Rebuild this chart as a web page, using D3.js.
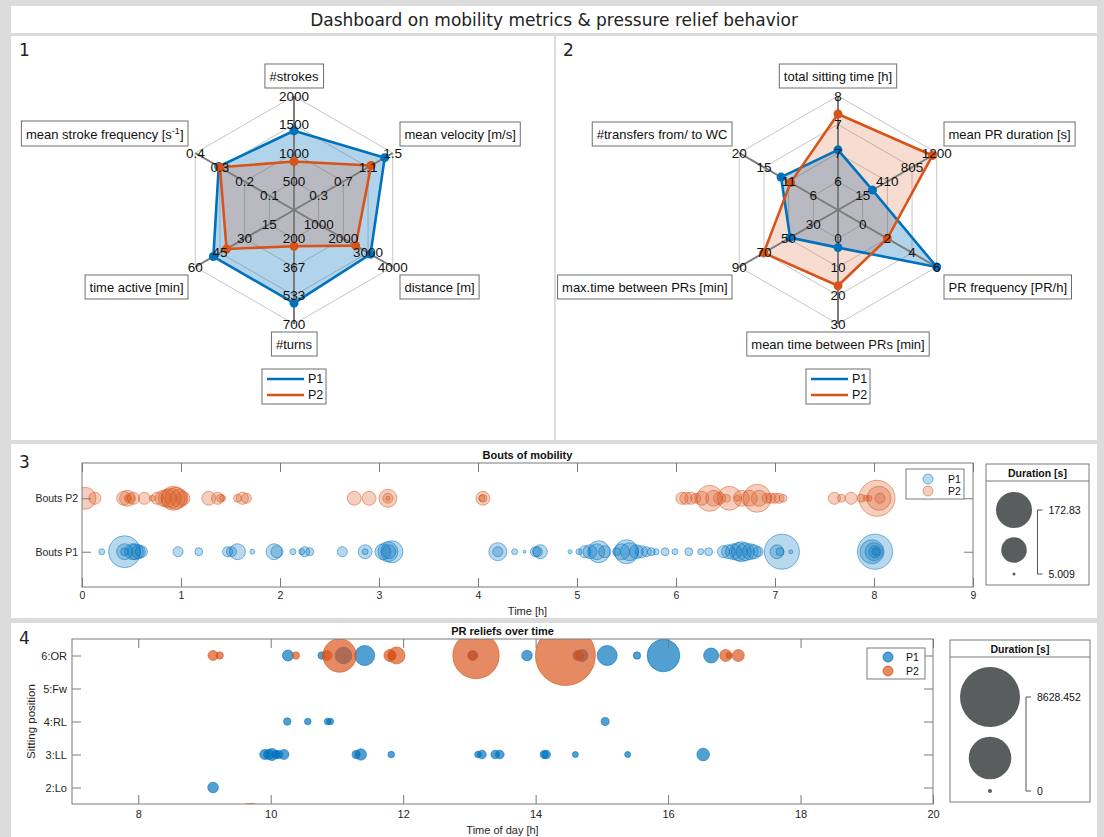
<!DOCTYPE html>
<html>
<head>
<meta charset="utf-8">
<script src="https://cdn.jsdelivr.net/npm/d3@7"></script>
<style>
  body { margin: 0; background: #dcdcdc; }
  svg { display: block; }
</style>
</head>
<body>
<div id="dash"></div>
<script>
// ---------------- DATA ----------------
const participants = ["P1", "P2"];
const colors = ["#0072BD", "#D95319"];

// radar 1 : mobility metrics
const mobLabels = ["#strokes", "mean velocity [m/s]", "distance [m]", "#turns", "time active [min]", "mean stroke frequency [s^-1]"];
const mobMin = [500, 0.3, 1000, 200, 15, 0.1];
const mobMax = [2000, 1.5, 4000, 700, 60, 0.4];
const mobTicks = [["500", "1000", "1500", "2000"], ["0.3", "0.7", "1.1", "1.5"], ["1000", "2000", "3000", "4000"],
                  ["200", "367", "533", "700"], ["15", "30", "45", "60"], ["0.1", "0.2", "0.3", "0.4"]];
const mobP1 = [1390, 1.37, 3100, 578, 49, 0.305];
const mobP2 = [850, 1.15, 2500, 245, 41, 0.3];

// radar 2 : pressure relief behaviour
const prLabels = ["total sitting time [h]", "mean PR duration [s]", "PR frequency [PR/h]", "mean time between PRs [min]", "max.time between PRs [min]", "#transfers from/ to WC"];
const prMin = [6, 15, 0, 0, 30, 6];
const prMax = [8, 1200, 6, 30, 90, 20];
const prTicks = [["6", "7", "7", "8"], ["15", "410", "805", "1200"], ["0", "2", "4", "6"],
                 ["0", "10", "20", "30"], ["30", "50", "70", "90"], ["6", "11", "15", "20"]];
const prP1 = [6.74, 172, 6.0, 3.2, 48.8, 12.1];
const prP2 = [7.58, 1130, 2.0, 16.6, 70.2, 10.3];

// bouts of mobility : time [h] and duration [s]
const boutRows = ["Bouts P1", "Bouts P2"];
const boutDurLimits = [5.009, 172.83];
const boutsP1Time = [0.20, 0.43, 0.43, 0.43, 0.51, 0.54, 0.57, 0.60, 0.97, 1.18, 1.47, 1.51, 1.57, 1.72, 1.94, 1.97,
  2.13, 2.22, 2.25, 2.30, 2.63, 2.86, 2.86, 3.04, 3.09, 3.13, 3.10, 4.20, 4.20, 4.37, 4.47, 4.58, 4.60, 4.63, 4.93,
  5.02, 5.08, 5.13, 5.20, 5.22, 5.28, 5.40, 5.45, 5.50, 5.53, 5.60, 5.65, 5.70, 5.75, 5.80, 5.89, 5.99, 6.13, 6.25, 6.33,
  6.48, 6.53, 6.58, 6.63, 6.66, 6.70, 6.75, 6.79, 6.83, 7.07, 7.02, 7.05, 7.16, 8.01, 7.98, 8.00, 8.01, 8.02];
const boutsP1Dur = [8.5, 137, 37, 12, 37, 37, 29, 23, 17, 12, 17, 17, 37, 7, 37, 23,
  8.5, 8.5, 17, 12, 17, 29, 8.5, 37, 56, 67, 29, 46, 17, 8.5, 5.009, 17, 17, 29, 6,
  8.5, 23, 29, 37, 67, 23, 12, 37, 79, 46, 29, 23, 17, 12, 8.5, 12, 8.5, 12, 8.5, 12,
  23, 29, 37, 46, 56, 46, 37, 29, 17, 164, 29, 12, 6, 165, 79, 46, 23, 12];
const boutsP2Time = [0.03, 0.13, 0.42, 0.46, 0.48, 0.47, 0.52, 0.63, 0.71, 0.76, 0.82, 0.86, 0.90, 0.92, 0.95, 0.98, 1.02,
  1.28, 1.37, 1.40, 1.42, 1.57, 1.62, 1.66, 2.75, 2.90, 3.09, 3.09, 3.09, 4.05, 4.05, 4.04,
  6.06, 6.10, 6.15, 6.20, 6.26, 6.34, 6.38, 6.44, 6.51, 6.54, 6.62, 6.66, 6.74, 6.82, 6.84, 6.92, 6.96, 7.00, 7.04, 7.08,
  7.60, 7.67, 7.77, 7.87, 7.92, 7.95, 8.03, 8.05, 8.06];
const boutsP2Dur = [67, 23, 29, 37, 17, 8.5, 23, 23, 8.5, 23, 37, 46, 56, 79, 67, 46, 29,
  29, 23, 12, 8.5, 12, 23, 17, 29, 29, 46, 17, 6, 29, 12, 8.5,
  23, 23, 23, 17, 29, 92, 37, 23, 12, 79, 8.5, 37, 37, 106, 37, 17, 17, 17, 17, 12,
  23, 12, 23, 12, 8.5, 8.5, 172.83, 79, 17];

// PR reliefs : time of day [h], sitting position, duration [s]
const posTicks = [2, 3, 4, 5, 6];
const posLabels = ["2:Lo", "3:LL", "4:RL", "5:Fw", "6:OR"];
const reliefDurLimits = [0, 8628.452];
const reliefP1Time = [10.26, 10.77, 11.10, 11.42, 13.05, 13.87, 14.64, 14.70, 15.08, 15.53, 15.93, 16.65,
  10.25, 10.56, 10.86, 10.90, 15.05,
  9.91, 9.97, 10.02, 10.08, 10.12, 10.20, 11.29, 11.36, 11.82, 13.13, 13.19, 13.39, 13.46, 14.13, 14.16, 14.60, 15.39, 16.53,
  9.13];
const reliefP1Pos = [6, 6, 6, 6, 6, 6, 6, 6, 6, 6, 6, 6,
  4, 4, 4, 4, 4,
  3, 3, 3, 3, 3, 3, 3, 3, 3, 3, 3, 3, 3, 3, 3, 3, 3, 3,
  2];
const reliefP1Dur = [253, 93, 625, 925, 202, 232, 202, 308, 925, 93, 2520, 503,
  93, 66, 66, 66, 116,
  202, 202, 308, 116, 116, 202, 116, 274, 66, 66, 140, 140, 140, 116, 140, 48, 48, 344,
  232];
const reliefP2Time = [9.13, 9.23, 10.38, 10.85, 11.04, 11.80, 11.90, 11.83, 13.10, 13.05, 14.45, 14.66, 16.87, 16.92, 17.06, 9.70];
const reliefP2Pos = [6, 6, 6, 6, 6, 6, 6, 6, 6, 6, 6, 6, 6, 6, 6, 1];
const reliefP2Dur = [202, 93, 93, 202, 2647, 308, 657, 116, 5145, 116, 8628.452, 116, 308, 48, 308, 2780];

// ---------------- FRAME ----------------
const FONT = "'Liberation Sans', Arial, Helvetica, sans-serif";
const svg = d3.select("#dash").append("svg")
  .attr("width", 1104).attr("height", 837)
  .style("font-family", FONT);

svg.append("rect").attr("width", 1104).attr("height", 837).attr("fill", "#dcdcdc");
const panels = [[11, 6, 1086, 27], [11, 36, 543, 404], [556, 36, 541, 404], [11, 444, 1086, 174], [11, 623, 1086, 214]];
panels.forEach(p => svg.append("rect")
  .attr("x", p[0]).attr("y", p[1]).attr("width", p[2]).attr("height", p[3]).attr("fill", "#fff"));

svg.append("text").attr("x", 554).attr("y", 26).attr("text-anchor", "middle")
  .style("font-family", "'DejaVu Sans', sans-serif").style("font-size", "17px").attr("fill", "#222")
  .text("Dashboard on mobility metrics & pressure relief behavior");

[["1", 19, 56], ["2", 563, 56], ["3", 19, 468], ["4", 19, 644]].forEach(n => svg.append("text")
  .attr("x", n[1]).attr("y", n[2]).style("font-family", "'DejaVu Sans', sans-serif")
  .style("font-size", "17px").attr("fill", "#222").text(n[0]));

// ---------------- RADARS ----------------
function radar(cx, cy, labels, mins, maxs, ticks, p1, p2) {
  const R = 114;
  const g = svg.append("g");
  const ang = i => -Math.PI / 2 + i * Math.PI / 3;
  const pt = (i, r) => [cx + r * Math.cos(ang(i)), cy + r * Math.sin(ang(i))];
  const scales = mins.map((m, i) => d3.scaleLinear().domain([m, maxs[i]]).range([R / 4, R]));

  // rings
  [1, 2, 3, 4].forEach(k => {
    g.append("path").attr("d", d3.line()(d3.range(6).map(i => pt(i, R * k / 4))) + "Z")
      .attr("fill", "none").attr("stroke", "#c6c6c6").attr("stroke-width", 1);
  });

  const series = [{ v: p1, c: colors[0], fo: 0.3 }, { v: p2, c: colors[1], fo: 0.2 }];
  series.forEach(s => {
    const pts = s.v.map((v, i) => pt(i, scales[i](v)));
    g.append("path").attr("d", d3.line()(pts) + "Z").attr("fill", s.c).attr("fill-opacity", s.fo);
  });

  // spokes
  d3.range(6).forEach(i => {
    const p = pt(i, R);
    g.append("line").attr("x1", cx).attr("y1", cy).attr("x2", p[0]).attr("y2", p[1])
      .attr("stroke", "#7c7c7c").attr("stroke-width", 2);
  });

  series.forEach(s => {
    const pts = s.v.map((v, i) => pt(i, scales[i](v)));
    g.append("path").attr("d", d3.line()(pts) + "Z").attr("fill", "none")
      .attr("stroke", s.c).attr("stroke-width", 2.6).attr("stroke-linejoin", "round");
    g.selectAll(null).data(pts).enter().append("circle")
      .attr("cx", d => d[0]).attr("cy", d => d[1]).attr("r", 4.5).attr("fill", s.c);
  });

  // tick labels on the rings
  ticks.forEach((tl, i) => tl.forEach((t, k) => {
    const p = pt(i, R * (k + 1) / 4);
    g.append("text").attr("x", p[0]).attr("y", p[1]).attr("text-anchor", "middle")
      .attr("dominant-baseline", "central").style("font-size", "13.5px").attr("fill", "#111").text(t);
  }));

  // axis name boxes
  labels.forEach((lab, i) => {
    const lg = g.append("g");
    const anchor = (i === 0 || i === 3) ? "middle" : (i < 3 ? "start" : "end");
    const txt = lg.append("text").attr("text-anchor", anchor).style("font-size", "13px").attr("fill", "#111");
    const parts = lab.split("^");
    txt.append("tspan").text(parts[0]);
    if (parts.length > 1) {
      txt.append("tspan").attr("dy", -5).style("font-size", "9px").text(parts[1].replace("]", ""));
      txt.append("tspan").attr("dy", 5).text("]");
    }
    const bb = txt.node().getBBox();
    const ph = 4.5, pv = 4.5;
    lg.insert("rect", "text").attr("x", bb.x - ph).attr("y", bb.y - pv)
      .attr("width", bb.width + 2 * ph).attr("height", bb.height + 2 * pv)
      .attr("fill", "#fff").attr("stroke", "#6e6e6e").attr("stroke-width", 1);
    let tx, ty;
    if (i === 0) { tx = cx; ty = (cy - R - 8) - (bb.y + bb.height + pv); }
    else if (i === 3) { tx = cx; ty = (cy + R + 8) - (bb.y - pv); }
    else {
      tx = i < 3 ? cx + 106 - (bb.x - ph) : cx - 106 - (bb.x + bb.width + ph);
      ty = (i === 1 || i === 5) ? (cy - 64) - (bb.y + bb.height + pv) : (cy + 65) - (bb.y - pv);
    }
    lg.attr("transform", `translate(${tx},${ty})`);
  });

  // legend
  const lg = g.append("g");
  lg.append("rect").attr("x", cx - 32).attr("y", 369).attr("width", 64).attr("height", 35)
    .attr("fill", "#fff").attr("stroke", "#6e6e6e");
  participants.forEach((p, k) => {
    const y = 379 + k * 16;
    lg.append("line").attr("x1", cx - 27).attr("x2", cx + 10).attr("y1", y).attr("y2", y)
      .attr("stroke", colors[k]).attr("stroke-width", 2.6);
    lg.append("text").attr("x", cx + 14).attr("y", y).attr("dominant-baseline", "central")
      .style("font-size", "12.5px").attr("fill", "#111").text(p);
  });
}

radar(294, 210, mobLabels, mobMin, mobMax, mobTicks, mobP1, mobP2);
radar(838, 210, prLabels, prMin, prMax, prTicks, prP1, prP2);

// ---------------- helpers for bubble panels ----------------
function styleAxis(g, size) {
  g.select(".domain").remove();
  g.attr("font-family", FONT).attr("font-size", size);
  g.selectAll("line").attr("stroke", "#7a7a7a");
  g.selectAll("text").attr("fill", "#262626");
}

function sizeLegend(x0, y0, w, h, headH, cxB, ys, bx, limits, area, labels, fs) {
  const g = svg.append("g");
  g.append("rect").attr("x", x0).attr("y", y0).attr("width", w).attr("height", h)
    .attr("fill", "#fff").attr("stroke", "#7a7a7a");
  g.append("line").attr("x1", x0).attr("x2", x0 + w).attr("y1", y0 + headH).attr("y2", y0 + headH).attr("stroke", "#7a7a7a");
  g.append("text").attr("x", x0 + w / 2).attr("y", y0 + headH - 4).attr("text-anchor", "middle")
    .style("font-size", "10.5px").style("font-weight", "bold").attr("fill", "#111").text("Duration [s]");
  const vals = [limits[1], (limits[0] + limits[1]) / 2, limits[0]];
  vals.forEach((v, k) => g.append("circle").attr("cx", cxB).attr("cy", ys[k])
    .attr("r", Math.sqrt(area(v))).attr("fill", "#595d5d"));
  g.append("path").attr("d", `M${bx + 5},${ys[0]}H${bx}V${ys[2]}H${bx + 5}`)
    .attr("fill", "none").attr("stroke", "#555").attr("stroke-width", 1);
  [0, 2].forEach((k, j) => g.append("text").attr("x", bx + 11).attr("y", ys[k])
    .attr("dominant-baseline", "central").style("font-size", fs).attr("fill", "#111").text(labels[j]));
}

// ---------------- PANEL 3 : bouts of mobility ----------------
{
  const L = 82, Rr = 973, T = 463, B = 587;
  const x = d3.scaleLinear().domain([0, 9]).range([L, Rr]);
  const y = d3.scaleLinear().domain([0.34, 2.66]).range([B, T]);
  const area = d3.scaleLinear().domain(boutDurLimits).range([1.5 * 1.5, 18 * 18]);

  svg.append("clipPath").attr("id", "clip3").append("rect")
    .attr("x", L).attr("y", T).attr("width", Rr - L).attr("height", B - T);
  const plot = svg.append("g").attr("clip-path", "url(#clip3)");
  const sets = [[boutsP1Time, boutsP1Dur, 1], [boutsP2Time, boutsP2Dur, 2]];
  sets.forEach((s, k) => {
    plot.append("g").selectAll("circle").data(s[0]).enter().append("circle")
      .attr("cx", d => x(d)).attr("cy", y(s[2]))
      .attr("r", (d, i) => Math.sqrt(area(s[1][i])))
      .attr("fill", colors[k]).attr("fill-opacity", 0.28)
      .attr("stroke", colors[k]).attr("stroke-opacity", 0.5).attr("stroke-width", 1);
  });

  svg.append("g").attr("transform", `translate(0,${B})`)
    .call(d3.axisBottom(x).ticks(9).tickSize(-9).tickSizeOuter(0).tickPadding(5)).call(g => styleAxis(g, 10.5));
  svg.append("g").attr("transform", `translate(0,${T})`)
    .call(d3.axisTop(x).ticks(9).tickSize(-9).tickSizeOuter(0).tickFormat("")).call(g => styleAxis(g, 10.5));
  svg.append("g").attr("transform", `translate(${L},0)`)
    .call(d3.axisLeft(y).tickValues([1, 2]).tickFormat(v => boutRows[v - 1]).tickSize(-9).tickSizeOuter(0).tickPadding(4))
    .call(g => styleAxis(g, 10.5));
  svg.append("g").attr("transform", `translate(${Rr},0)`)
    .call(d3.axisRight(y).tickValues([1, 2]).tickSize(-9).tickSizeOuter(0).tickFormat("")).call(g => styleAxis(g, 10.5));
  svg.append("rect").attr("x", L).attr("y", T).attr("width", Rr - L).attr("height", B - T)
    .attr("fill", "none").attr("stroke", "#7a7a7a");

  svg.append("text").attr("x", (L + Rr) / 2).attr("y", 459).attr("text-anchor", "middle")
    .style("font-size", "11px").style("font-weight", "bold").attr("fill", "#111").text("Bouts of mobility");
  svg.append("text").attr("x", (L + Rr) / 2).attr("y", 615).attr("text-anchor", "middle")
    .style("font-size", "11px").attr("fill", "#262626").text("Time [h]");

  // series legend
  const lg = svg.append("g");
  lg.append("rect").attr("x", 906).attr("y", 469).attr("width", 58).attr("height", 30)
    .attr("fill", "#fff").attr("stroke", "#7a7a7a");
  participants.forEach((p, k) => {
    lg.append("circle").attr("cx", 928).attr("cy", 479 + k * 12).attr("r", 5)
      .attr("fill", colors[k]).attr("fill-opacity", 0.28).attr("stroke", colors[k]).attr("stroke-opacity", 0.5);
    lg.append("text").attr("x", 948).attr("y", 479 + k * 12).attr("dominant-baseline", "central")
      .style("font-size", "10.5px").attr("fill", "#111").text(p);
  });

  sizeLegend(986, 464, 103, 121, 17, 1014, [510, 550, 574], 1037.5, boutDurLimits, area,
    ["172.83", "5.009"], "10.5px");
}

// ---------------- PANEL 4 : PR reliefs over time ----------------
{
  const L = 72, Rr = 933, T = 639, B = 804;
  const x = d3.scaleLinear().domain([7, 20]).range([L, Rr]);
  const y = d3.scaleLinear().domain([1.5, 6.5]).range([B, T]);
  const area = d3.scaleLinear().domain(reliefDurLimits).range([2 * 2, 30 * 30]);

  svg.append("clipPath").attr("id", "clip4").append("rect")
    .attr("x", L).attr("y", T).attr("width", Rr - L).attr("height", B - T);
  const plot = svg.append("g").attr("clip-path", "url(#clip4)");
  const sets = [[reliefP1Time, reliefP1Pos, reliefP1Dur], [reliefP2Time, reliefP2Pos, reliefP2Dur]];
  sets.forEach((s, k) => {
    plot.append("g").selectAll("circle").data(s[0]).enter().append("circle")
      .attr("cx", d => x(d)).attr("cy", (d, i) => y(s[1][i]))
      .attr("r", (d, i) => Math.sqrt(area(s[2][i])))
      .attr("fill", colors[k]).attr("fill-opacity", 0.68)
      .attr("stroke", colors[k]).attr("stroke-opacity", 0.75).attr("stroke-width", 0.8);
  });

  const xt = d3.range(8, 21, 2);
  svg.append("g").attr("transform", `translate(0,${B})`)
    .call(d3.axisBottom(x).tickValues(xt).tickSize(-9).tickSizeOuter(0).tickPadding(6)).call(g => styleAxis(g, 11));
  svg.append("g").attr("transform", `translate(0,${T})`)
    .call(d3.axisTop(x).tickValues(xt).tickSize(-9).tickSizeOuter(0).tickFormat("")).call(g => styleAxis(g, 11));
  svg.append("g").attr("transform", `translate(${L},0)`)
    .call(d3.axisLeft(y).tickValues(posTicks).tickFormat((v, i) => posLabels[i]).tickSize(-9).tickSizeOuter(0).tickPadding(5))
    .call(g => styleAxis(g, 11));
  svg.append("g").attr("transform", `translate(${Rr},0)`)
    .call(d3.axisRight(y).tickValues(posTicks).tickSize(-9).tickSizeOuter(0).tickFormat("")).call(g => styleAxis(g, 11));
  svg.append("rect").attr("x", L).attr("y", T).attr("width", Rr - L).attr("height", B - T)
    .attr("fill", "none").attr("stroke", "#7a7a7a");

  svg.append("text").attr("x", (L + Rr) / 2).attr("y", 635).attr("text-anchor", "middle")
    .style("font-size", "11px").style("font-weight", "bold").attr("fill", "#111").text("PR reliefs over time");
  svg.append("text").attr("x", (L + Rr) / 2).attr("y", 834).attr("text-anchor", "middle")
    .style("font-size", "11px").attr("fill", "#262626").text("Time of day [h]");
  svg.append("text").attr("transform", `translate(35,${(T + B) / 2}) rotate(-90)`).attr("text-anchor", "middle")
    .style("font-size", "11.5px").attr("fill", "#262626").text("Sitting position");

  const lg = svg.append("g");
  lg.append("rect").attr("x", 867).attr("y", 648).attr("width", 58).attr("height", 31)
    .attr("fill", "#fff").attr("stroke", "#7a7a7a");
  participants.forEach((p, k) => {
    lg.append("circle").attr("cx", 888).attr("cy", 657 + k * 14).attr("r", 5)
      .attr("fill", colors[k]).attr("fill-opacity", 0.68).attr("stroke", colors[k]).attr("stroke-opacity", 0.75);
    lg.append("text").attr("x", 906).attr("y", 657 + k * 14).attr("dominant-baseline", "central")
      .style("font-size", "10.5px").attr("fill", "#111").text(p);
  });

  sizeLegend(950, 640, 140, 162, 17, 990, [697, 758, 791], 1026, reliefDurLimits, area,
    ["8628.452", "0"], "10.5px");
}
</script>
</body>
</html>
